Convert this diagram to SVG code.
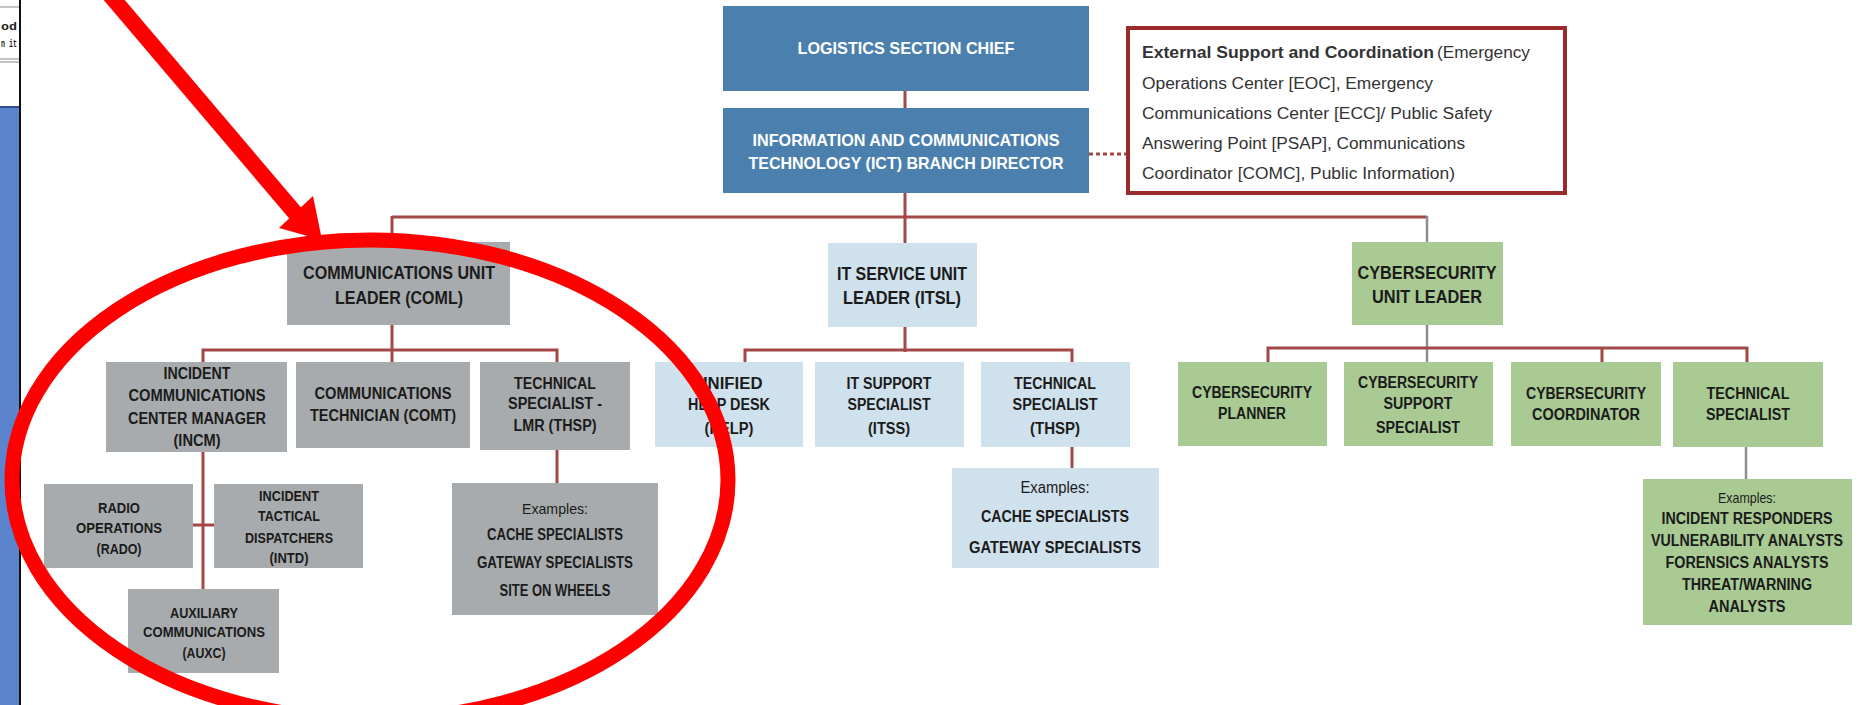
<svg xmlns="http://www.w3.org/2000/svg" width="1857" height="705" viewBox="0 0 1857 705">
<style>
.b{font-family:"Liberation Sans Narrow","Liberation Sans",Arial,sans-serif;font-weight:bold;text-anchor:middle;fill:#1b1b1b}
.w{fill:#ffffff}
.ex{font-weight:normal}
.f18{font-size:18.5px}.f17{font-size:17px}.f16{font-size:16px}.f15{font-size:15px}
.gray{fill:#a8abad}.lb{fill:#cfe1ec}.gr{fill:#a9ca93}.st{fill:#4b7fae}
.ext{font-family:"Liberation Sans",Arial,sans-serif;font-size:16px;fill:#333333}
.c{stroke:#a34848;stroke-width:3;fill:none}
.cg{stroke:#8e8e8e;stroke-width:2.5;fill:none}
</style>
<rect width="1857" height="705" fill="#ffffff"/>
<g id="slide-edge">
<rect x="0" y="107" width="20" height="598" fill="#5b84cf"/>
<line x1="0" y1="107" x2="20" y2="107" stroke="#2d4f8f" stroke-width="2"/>
<line x1="0" y1="7" x2="20" y2="7" stroke="#b0b0b0" stroke-width="1.5"/>
<line x1="0" y1="59" x2="20" y2="59" stroke="#9a9a9a" stroke-width="1.2"/>
<line x1="0" y1="62" x2="20" y2="62" stroke="#9a9a9a" stroke-width="1.2"/>
<text x="1" y="30" font-family="Liberation Mono,monospace" font-size="11" font-weight="bold" fill="#222" textLength="16" lengthAdjust="spacingAndGlyphs">od</text>
<text x="1" y="47" font-family="Liberation Mono,monospace" font-size="11" font-weight="bold" fill="#222" textLength="16" lengthAdjust="spacingAndGlyphs">n it</text>
<line x1="20" y1="0" x2="20" y2="705" stroke="#111" stroke-width="2"/>
</g>
<g id="connectors">
<line class="c" x1="905" y1="91" x2="905" y2="108"/>
<line class="c" x1="1089" y1="154" x2="1128" y2="154" stroke-dasharray="4 3" stroke-width="2"/>
<line class="c" x1="905" y1="193" x2="905" y2="243"/>
<line class="c" x1="392" y1="217" x2="1427" y2="217"/>
<line class="c" x1="392" y1="216" x2="392" y2="242"/>
<line class="cg" x1="1427" y1="216" x2="1427" y2="242"/>
<line class="c" x1="392" y1="325" x2="392" y2="362"/>
<polyline class="c" points="203,362 203,350 557,350 557,362"/>
<line class="c" x1="203" y1="452" x2="203" y2="589" stroke-width="2"/>
<line class="c" x1="193" y1="525" x2="214" y2="525" stroke-width="2"/>
<line class="c" x1="557" y1="450" x2="557" y2="483" stroke-width="2"/>
<line class="c" x1="905" y1="327" x2="905" y2="352"/>
<polyline class="c" points="745,362 745,350 1072,350 1072,362"/>
<line class="c" x1="1072" y1="447" x2="1072" y2="468"/>
<line class="cg" x1="1427" y1="325" x2="1427" y2="362"/>
<polyline class="c" points="1268,362 1268,348 1747,348 1747,362"/>
<line class="c" x1="1602" y1="348" x2="1602" y2="362"/>
<line class="cg" x1="1746" y1="447" x2="1746" y2="479"/>
</g>
<g id="logistics-chief">
<rect class="st" x="723" y="6" width="366" height="85"/>
<text class="b w f17" x="906" y="54" textLength="217" lengthAdjust="spacingAndGlyphs">LOGISTICS SECTION CHIEF</text>
</g>
<g id="ict-branch-director">
<rect class="st" x="723" y="108" width="366" height="85"/>
<text class="b w f17" x="906" y="146" textLength="307" lengthAdjust="spacingAndGlyphs">INFORMATION AND COMMUNICATIONS</text>
<text class="b w f17" x="906" y="169" textLength="315" lengthAdjust="spacingAndGlyphs">TECHNOLOGY (ICT) BRANCH DIRECTOR</text>
</g>
<g id="external-support">
<rect x="1128" y="28" width="437" height="165" fill="#ffffff" stroke="#9b2b2b" stroke-width="4"/>
<text class="ext" x="1142" y="58" font-weight="bold" textLength="292" lengthAdjust="spacingAndGlyphs">External Support and Coordination</text>
<text class="ext" x="1437" y="58" textLength="93" lengthAdjust="spacingAndGlyphs">(Emergency</text>
<text class="ext" x="1142" y="89" textLength="291" lengthAdjust="spacingAndGlyphs">Operations Center [EOC], Emergency</text>
<text class="ext" x="1142" y="119" textLength="350" lengthAdjust="spacingAndGlyphs">Communications Center [ECC]/ Public Safety</text>
<text class="ext" x="1142" y="149" textLength="323" lengthAdjust="spacingAndGlyphs">Answering Point [PSAP], Communications</text>
<text class="ext" x="1142" y="179" textLength="313" lengthAdjust="spacingAndGlyphs">Coordinator [COMC], Public Information)</text>
</g>
<g id="coml">
<rect class="gray" x="287" y="242" width="223" height="83"/>
<text class="b f18" x="399" y="279" textLength="192" lengthAdjust="spacingAndGlyphs">COMMUNICATIONS UNIT</text>
<text class="b f18" x="399" y="304" textLength="128" lengthAdjust="spacingAndGlyphs">LEADER (COML)</text>
</g>
<g id="itsl">
<rect class="lb" x="828" y="243" width="149" height="84"/>
<text class="b f18" x="902" y="280" textLength="130" lengthAdjust="spacingAndGlyphs">IT SERVICE UNIT</text>
<text class="b f18" x="902" y="304" textLength="118" lengthAdjust="spacingAndGlyphs">LEADER (ITSL)</text>
</g>
<g id="cyber-unit-leader">
<rect class="gr" x="1352" y="242" width="151" height="83"/>
<text class="b f18" x="1427" y="279" textLength="139" lengthAdjust="spacingAndGlyphs">CYBERSECURITY</text>
<text class="b f18" x="1427" y="303" textLength="110" lengthAdjust="spacingAndGlyphs">UNIT LEADER</text>
</g>
<g id="incm">
<rect class="gray" x="106" y="362" width="181" height="90"/>
<text class="b f16" x="197" y="379" textLength="67" lengthAdjust="spacingAndGlyphs">INCIDENT</text>
<text class="b f16" x="197" y="401" textLength="137" lengthAdjust="spacingAndGlyphs">COMMUNICATIONS</text>
<text class="b f16" x="197" y="424" textLength="138" lengthAdjust="spacingAndGlyphs">CENTER MANAGER</text>
<text class="b f16" x="197" y="446" textLength="47" lengthAdjust="spacingAndGlyphs">(INCM)</text>
</g>
<g id="comt">
<rect class="gray" x="296" y="362" width="174" height="86"/>
<text class="b f16" x="383" y="399" textLength="137" lengthAdjust="spacingAndGlyphs">COMMUNICATIONS</text>
<text class="b f16" x="383" y="421" textLength="146" lengthAdjust="spacingAndGlyphs">TECHNICIAN (COMT)</text>
</g>
<g id="thsp-lmr">
<rect class="gray" x="480" y="362" width="150" height="88"/>
<text class="b f16" x="555" y="389" textLength="82" lengthAdjust="spacingAndGlyphs">TECHNICAL</text>
<text class="b f16" x="555" y="409" textLength="94" lengthAdjust="spacingAndGlyphs">SPECIALIST -</text>
<text class="b f16" x="555" y="431" textLength="83" lengthAdjust="spacingAndGlyphs">LMR (THSP)</text>
</g>
<g id="rado">
<rect class="gray" x="44" y="484" width="149" height="84"/>
<text class="b f15" x="119" y="513" textLength="42" lengthAdjust="spacingAndGlyphs">RADIO</text>
<text class="b f15" x="119" y="533" textLength="86" lengthAdjust="spacingAndGlyphs">OPERATIONS</text>
<text class="b f15" x="119" y="554" textLength="45" lengthAdjust="spacingAndGlyphs">(RADO)</text>
</g>
<g id="intd">
<rect class="gray" x="214" y="484" width="149" height="84"/>
<text class="b f15" x="289" y="501" textLength="60" lengthAdjust="spacingAndGlyphs">INCIDENT</text>
<text class="b f15" x="289" y="521" textLength="62" lengthAdjust="spacingAndGlyphs">TACTICAL</text>
<text class="b f15" x="289" y="543" textLength="88" lengthAdjust="spacingAndGlyphs">DISPATCHERS</text>
<text class="b f15" x="289" y="563" textLength="39" lengthAdjust="spacingAndGlyphs">(INTD)</text>
</g>
<g id="auxc">
<rect class="gray" x="128" y="589" width="151" height="84"/>
<text class="b f15" x="204" y="618" textLength="68" lengthAdjust="spacingAndGlyphs">AUXILIARY</text>
<text class="b f15" x="204" y="637" textLength="122" lengthAdjust="spacingAndGlyphs">COMMUNICATIONS</text>
<text class="b f15" x="204" y="658" textLength="43" lengthAdjust="spacingAndGlyphs">(AUXC)</text>
</g>
<g id="coml-examples">
<rect class="gray" x="452" y="483" width="206" height="132"/>
<text class="b ex f15" x="555" y="514" textLength="66" lengthAdjust="spacingAndGlyphs">Examples:</text>
<text class="b f16" x="555" y="540" textLength="136" lengthAdjust="spacingAndGlyphs">CACHE SPECIALISTS</text>
<text class="b f16" x="555" y="568" textLength="156" lengthAdjust="spacingAndGlyphs">GATEWAY SPECIALISTS</text>
<text class="b f16" x="555" y="596" textLength="111" lengthAdjust="spacingAndGlyphs">SITE ON WHEELS</text>
</g>
<g id="help">
<rect class="lb" x="655" y="362" width="148" height="85"/>
<text class="b f16" x="729" y="389" textLength="67" lengthAdjust="spacingAndGlyphs">UNIFIED</text>
<text class="b f16" x="729" y="410" textLength="82" lengthAdjust="spacingAndGlyphs">HELP DESK</text>
<text class="b f16" x="729" y="434" textLength="49" lengthAdjust="spacingAndGlyphs">(HELP)</text>
</g>
<g id="itss">
<rect class="lb" x="815" y="362" width="149" height="85"/>
<text class="b f16" x="889" y="389" textLength="85" lengthAdjust="spacingAndGlyphs">IT SUPPORT</text>
<text class="b f16" x="889" y="410" textLength="83" lengthAdjust="spacingAndGlyphs">SPECIALIST</text>
<text class="b f16" x="889" y="434" textLength="42" lengthAdjust="spacingAndGlyphs">(ITSS)</text>
</g>
<g id="thsp">
<rect class="lb" x="981" y="362" width="149" height="85"/>
<text class="b f16" x="1055" y="389" textLength="82" lengthAdjust="spacingAndGlyphs">TECHNICAL</text>
<text class="b f16" x="1055" y="410" textLength="85" lengthAdjust="spacingAndGlyphs">SPECIALIST</text>
<text class="b f16" x="1055" y="434" textLength="50" lengthAdjust="spacingAndGlyphs">(THSP)</text>
</g>
<g id="itsl-examples">
<rect class="lb" x="952" y="468" width="207" height="100"/>
<text class="b ex f16" x="1055" y="493" textLength="69" lengthAdjust="spacingAndGlyphs">Examples:</text>
<text class="b f17" x="1055" y="522" textLength="148" lengthAdjust="spacingAndGlyphs">CACHE SPECIALISTS</text>
<text class="b f17" x="1055" y="553" textLength="172" lengthAdjust="spacingAndGlyphs">GATEWAY SPECIALISTS</text>
</g>
<g id="cyber-planner">
<rect class="gr" x="1178" y="362" width="149" height="84"/>
<text class="b f16" x="1252" y="398" textLength="120" lengthAdjust="spacingAndGlyphs">CYBERSECURITY</text>
<text class="b f16" x="1252" y="419" textLength="68" lengthAdjust="spacingAndGlyphs">PLANNER</text>
</g>
<g id="cyber-support">
<rect class="gr" x="1344" y="362" width="149" height="84"/>
<text class="b f16" x="1418" y="388" textLength="120" lengthAdjust="spacingAndGlyphs">CYBERSECURITY</text>
<text class="b f16" x="1418" y="409" textLength="69" lengthAdjust="spacingAndGlyphs">SUPPORT</text>
<text class="b f16" x="1418" y="433" textLength="84" lengthAdjust="spacingAndGlyphs">SPECIALIST</text>
</g>
<g id="cyber-coordinator">
<rect class="gr" x="1511" y="362" width="150" height="84"/>
<text class="b f16" x="1586" y="399" textLength="120" lengthAdjust="spacingAndGlyphs">CYBERSECURITY</text>
<text class="b f16" x="1586" y="420" textLength="108" lengthAdjust="spacingAndGlyphs">COORDINATOR</text>
</g>
<g id="cyber-technical-specialist">
<rect class="gr" x="1673" y="362" width="150" height="85"/>
<text class="b f16" x="1748" y="399" textLength="83" lengthAdjust="spacingAndGlyphs">TECHNICAL</text>
<text class="b f16" x="1748" y="420" textLength="84" lengthAdjust="spacingAndGlyphs">SPECIALIST</text>
</g>
<g id="cyber-examples">
<rect class="gr" x="1643" y="479" width="209" height="146"/>
<text class="b ex f15" x="1747" y="503" textLength="58" lengthAdjust="spacingAndGlyphs">Examples:</text>
<text class="b f16" x="1747" y="524" textLength="171" lengthAdjust="spacingAndGlyphs">INCIDENT RESPONDERS</text>
<text class="b f16" x="1747" y="546" textLength="192" lengthAdjust="spacingAndGlyphs">VULNERABILITY ANALYSTS</text>
<text class="b f16" x="1747" y="568" textLength="163" lengthAdjust="spacingAndGlyphs">FORENSICS ANALYSTS</text>
<text class="b f16" x="1747" y="590" textLength="130" lengthAdjust="spacingAndGlyphs">THREAT/WARNING</text>
<text class="b f16" x="1747" y="612" textLength="77" lengthAdjust="spacingAndGlyphs">ANALYSTS</text>
</g>
<g id="annotation">
<ellipse cx="370" cy="480" rx="358" ry="240" fill="none" stroke="#ff0000" stroke-width="15"/>
<line x1="110" y1="-5" x2="296" y2="214" stroke="#ff0000" stroke-width="16"/>
<polygon points="322,240 279,228 313,196" fill="#ff0000"/>
</g>
</svg>
